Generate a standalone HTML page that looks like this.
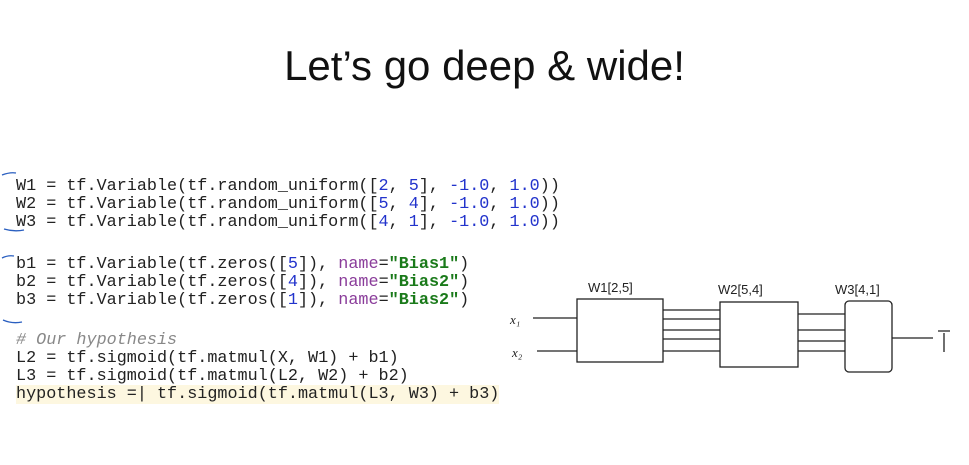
<!DOCTYPE html>
<html><head><meta charset="utf-8"><style>
body{margin:0;width:969px;height:465px;background:#fff;position:relative;overflow:hidden;font-family:"Liberation Sans",sans-serif}
.t{position:absolute;left:0;width:969px;top:42px;text-align:center;font-size:42px;color:#111}
.c{position:absolute;left:16px;font-family:"Liberation Mono",monospace;font-size:16.8px;color:#222;white-space:pre;line-height:18px}
.n{color:#2233cc}.p{color:#8a3c9a}.s{color:#1a7a1a;font-weight:bold}.cm{color:#888;font-style:italic}
.hl{background:#fdf7e0}
</style></head><body>
<div class="t">Let’s go deep &amp; wide!</div>
<div class="c" style="top:178px">W1 = tf.Variable(tf.random_uniform([<span class="n">2</span>, <span class="n">5</span>], <span class="n">-1.0</span>, <span class="n">1.0</span>))
W2 = tf.Variable(tf.random_uniform([<span class="n">5</span>, <span class="n">4</span>], <span class="n">-1.0</span>, <span class="n">1.0</span>))
W3 = tf.Variable(tf.random_uniform([<span class="n">4</span>, <span class="n">1</span>], <span class="n">-1.0</span>, <span class="n">1.0</span>))</div>
<div class="c" style="top:256px">b1 = tf.Variable(tf.zeros([<span class="n">5</span>]), <span class="p">name</span>=<span class="s">"Bias1"</span>)
b2 = tf.Variable(tf.zeros([<span class="n">4</span>]), <span class="p">name</span>=<span class="s">"Bias2"</span>)
b3 = tf.Variable(tf.zeros([<span class="n">1</span>]), <span class="p">name</span>=<span class="s">"Bias2"</span>)</div>
<div class="c" style="top:332px"><span class="cm"># Our hypothesis</span>
L2 = tf.sigmoid(tf.matmul(X, W1) + b1)
L3 = tf.sigmoid(tf.matmul(L2, W2) + b2)
<span class="hl">hypothesis =| tf.sigmoid(tf.matmul(L3, W3) + b3)</span></div>
<svg width="969" height="465" style="position:absolute;left:0;top:0" fill="none" stroke="#222" stroke-width="1.3">
<path d="M2 175 Q10 172 16 173 M4 229 Q14 232 24 230 M2 258 Q8 255 14 256 M3 320 Q12 324 22 322" stroke="#2a5fc0"/>
<rect x="577" y="299" width="86" height="63"/>
<rect x="720" y="302" width="78" height="65"/>
<rect x="845" y="301" width="47" height="71" rx="4"/>
<path d="M533 318H577M537 351H577M663 310H720M663 319H720M663 330H720M663 339H720M663 351H720M798 314H845M798 330H845M798 341H845M798 351H845M892 338H933"/>
<path d="M938 331H950M944 333V352"/>
<text x="588" y="292" font-family="Liberation Sans" font-size="13" fill="#222" stroke="none">W1[2,5]</text>
<text x="718" y="294" font-family="Liberation Sans" font-size="13" fill="#222" stroke="none">W2[5,4]</text>
<text x="835" y="294" font-family="Liberation Sans" font-size="13" fill="#222" stroke="none">W3[4,1]</text>
<text x="510" y="324" font-family="Liberation Serif" font-style="italic" font-size="13" fill="#222" stroke="none">x₁</text>
<text x="512" y="357" font-family="Liberation Serif" font-style="italic" font-size="13" fill="#222" stroke="none">x₂</text>
</svg>
</body></html>
